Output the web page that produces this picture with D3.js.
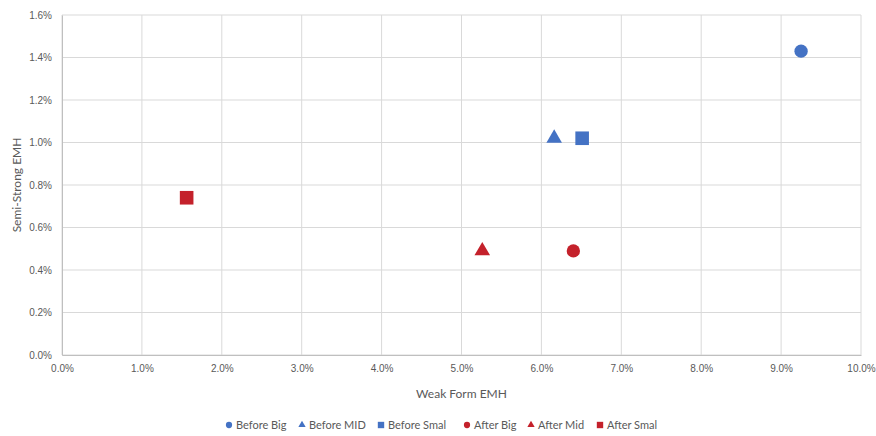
<!DOCTYPE html>
<html>
<head>
<meta charset="utf-8">
<script src="https://cdn.jsdelivr.net/npm/d3@7"></script>
<style>
  body { margin: 0; background: #fff; }
  svg { font-family: Lato, "Liberation Sans", sans-serif; }
</style>
</head>
<body>
<svg width="876" height="436"></svg>
<script>
const seriesNames = ["Before Big", "Before MID", "Before Smal", "After Big", "After Mid", "After Smal"];
const weakForm = [0.0925, 0.0616, 0.0651, 0.0640, 0.0526, 0.0156];
const semiStrong = [0.0143, 0.0102, 0.0102, 0.0049, 0.0049, 0.0074];
const shapes = ["circle", "triangle", "square", "circle", "triangle", "square"];
const colors = ["#4472C4", "#4472C4", "#4472C4", "#C4212B", "#C4212B", "#C4212B"];
const xTicks = [0, 0.01, 0.02, 0.03, 0.04, 0.05, 0.06, 0.07, 0.08, 0.09, 0.10];
const yTicks = [0, 0.002, 0.004, 0.006, 0.008, 0.010, 0.012, 0.014, 0.016];

const svg = d3.select('svg');
const plotLeft = 62, plotRight = 861, plotTop = 15, plotBottom = 355;

const x = d3.scaleLinear().domain([0, 0.10]).range([plotLeft, plotRight]);
const y = d3.scaleLinear().domain([0, 0.016]).range([plotBottom, plotTop]);

const symbolType = {
  circle: d3.symbolCircle,
  triangle: d3.symbolTriangle,
  square: d3.symbolSquare
};
const symbolSize = { circle: 140, triangle: 105, square: 185 };

// grid
svg.append('g')
  .selectAll('line')
  .data(xTicks)
  .enter().append('line')
  .attr('x1', d => x(d)).attr('x2', d => x(d))
  .attr('y1', plotTop).attr('y2', plotBottom)
  .attr('stroke', '#D9D9D9').attr('stroke-width', 1);

svg.append('g')
  .selectAll('line')
  .data(yTicks)
  .enter().append('line')
  .attr('x1', plotLeft).attr('x2', plotRight)
  .attr('y1', d => y(d)).attr('y2', d => y(d))
  .attr('stroke', '#D9D9D9').attr('stroke-width', 1);

// axes
const xAxis = d3.axisBottom(x).tickValues(xTicks).tickSize(0).tickPadding(10)
  .tickFormat(d3.format('.1%'));
const yAxis = d3.axisLeft(y).tickValues(yTicks).tickSize(0).tickPadding(10)
  .tickFormat(d3.format('.1%'));

const gx = svg.append('g').attr('transform', `translate(0,${plotBottom})`).call(xAxis);
const gy = svg.append('g').attr('transform', `translate(${plotLeft},0)`).call(yAxis);
[gx, gy].forEach(g => {
  g.select('.domain').attr('stroke', '#BFBFBF');
  g.selectAll('text').attr('fill', '#595959').style('font-size', '10px');
});

// titles
svg.append('text')
  .attr('x', (plotLeft + plotRight) / 2).attr('y', 398)
  .attr('text-anchor', 'middle')
  .attr('fill', '#595959').style('font-size', '12px')
  .text('Weak Form EMH');

svg.append('text')
  .attr('transform', `translate(21,${(plotTop + plotBottom) / 2}) rotate(-90)`)
  .attr('text-anchor', 'middle')
  .attr('fill', '#595959').style('font-size', '12px')
  .text('Semi-Strong EMH');

// points
const data = seriesNames.map((name, i) => ({
  name, wx: weakForm[i], sy: semiStrong[i], shape: shapes[i], color: colors[i]
}));

svg.append('g')
  .selectAll('path')
  .data(data)
  .enter().append('path')
  .attr('transform', d => `translate(${x(d.wx)},${y(d.sy)})`)
  .attr('d', d => d3.symbol().type(symbolType[d.shape]).size(symbolSize[d.shape])())
  .attr('fill', d => d.color);

// legend
const legendX = [229, 302, 381, 467, 531, 600];
const legend = svg.append('g')
  .selectAll('g')
  .data(data)
  .enter().append('g')
  .attr('transform', (d, i) => `translate(${legendX[i]},425)`);

legend.append('path')
  .attr('d', d => d3.symbol().type(symbolType[d.shape]).size(symbolSize[d.shape] * 0.22)())
  .attr('fill', d => d.color);

legend.append('text')
  .attr('x', 7).attr('y', 4)
  .attr('fill', '#595959').style('font-size', '11px')
  .text(d => d.name);
</script>
</body>
</html>
